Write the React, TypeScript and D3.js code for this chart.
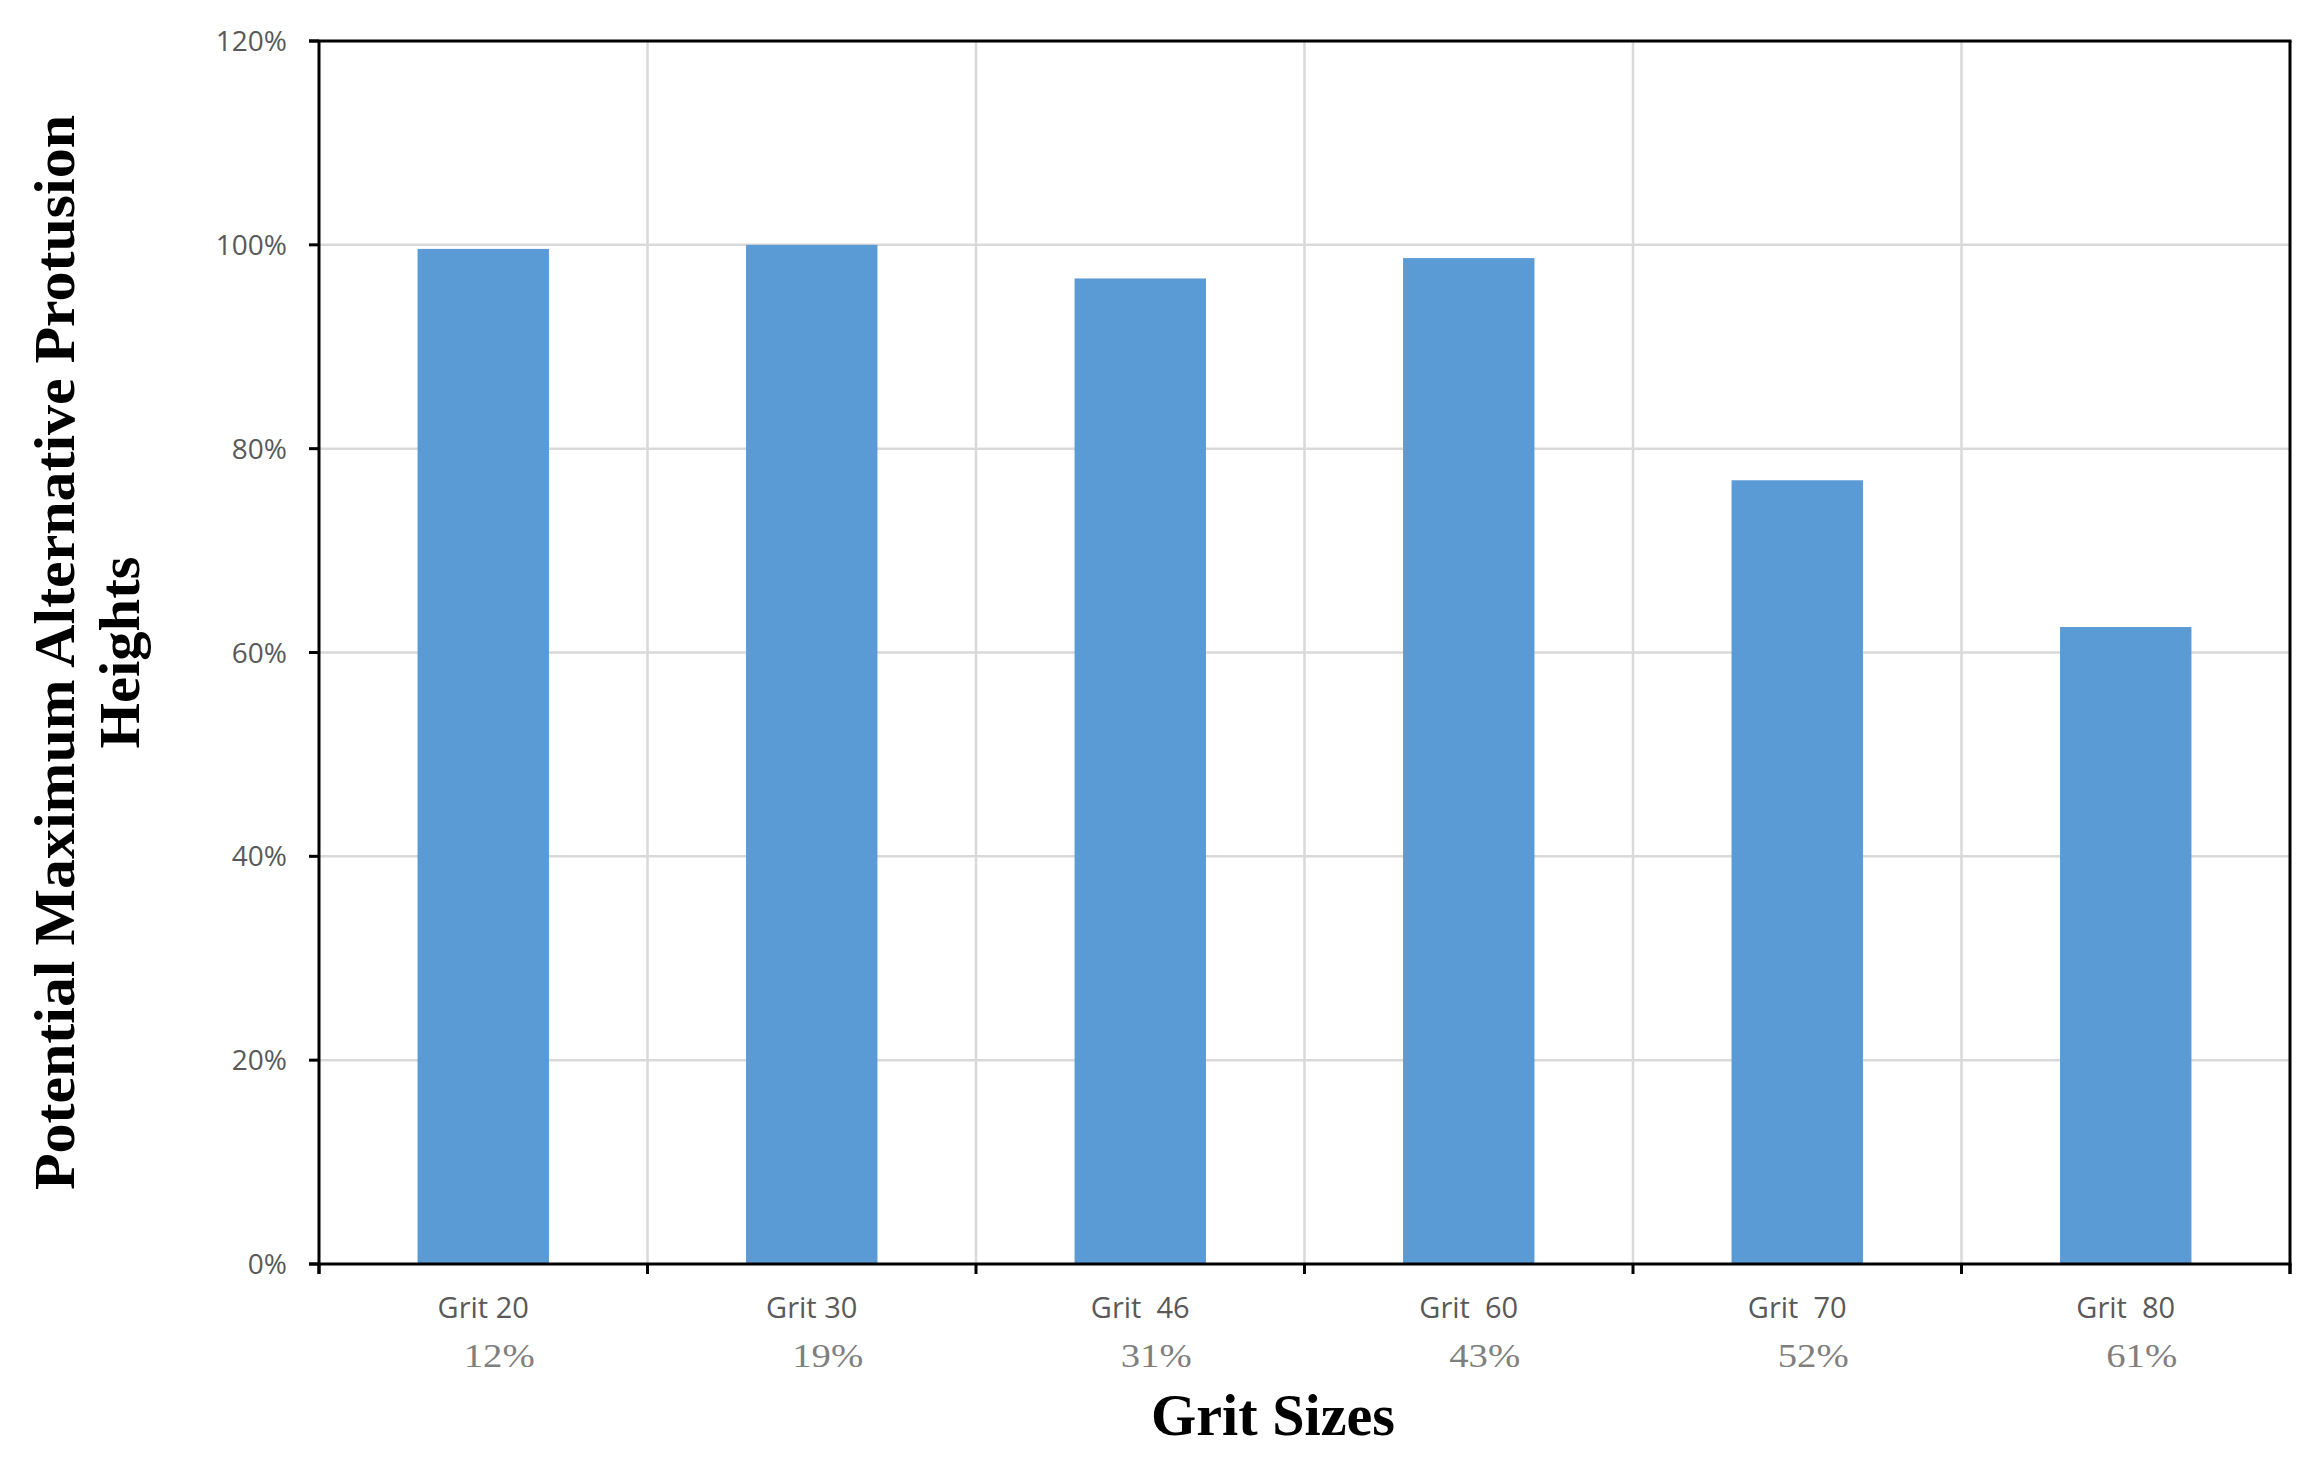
import React from "react";
import * as d3 from "d3";

const categories = ["Grit 20", "Grit 30", "Grit  46", "Grit  60", "Grit  70", "Grit  80"];
const subLabels = ["12%", "19%", "31%", "43%", "52%", "61%"];
const values = [0.996, 1.0, 0.967, 0.987, 0.769, 0.625];
const yTicks = [0, 0.2, 0.4, 0.6, 0.8, 1.0, 1.2];
const yTitleLines = ["Potential Maximum Alternative Protusion", "Heights"];
const xTitle = "Grit Sizes";

const W = 2318;
const H = 1460;
const left = 319;
const right = 2290;
const top = 41;
const bottom = 1264;

export default function App() {
  const x = d3.scaleBand<string>().domain(categories).range([left, right]).padding(0);
  const y = d3.scaleLinear().domain([0, 1.2]).range([bottom, top]);
  const bw = x.bandwidth();
  const barW = bw * 0.4;
  const fmt = d3.format(".0%");
  const boundaries = d3.range(categories.length + 1).map((i) => left + i * bw);
  const sans = "'Open Sans', sans-serif";
  const serif = "'Liberation Serif', 'Times New Roman', serif";
  const axisColor = "#000";
  const gridColor = "#d9d9d9";

  return (
    <svg
      width={W}
      height={H}
      style={{ position: "absolute", left: 0, top: 0, background: "#fff" }}
    >
      <rect x={0} y={0} width={W} height={H} fill="#fff" />
      {/* horizontal gridlines */}
      {yTicks.slice(1, -1).map((t) => (
        <line key={"hg" + t} x1={left} x2={right} y1={y(t)} y2={y(t)} stroke={gridColor} strokeWidth={2.5} />
      ))}
      {/* vertical gridlines */}
      {boundaries.slice(1, -1).map((bx, i) => (
        <line key={"vg" + i} x1={bx} x2={bx} y1={top} y2={bottom} stroke={gridColor} strokeWidth={2.5} />
      ))}
      {/* bars */}
      {categories.map((c, i) => (
        <rect
          key={"b" + i}
          x={(x(c) as number) + bw / 2 - barW / 2}
          y={y(values[i])}
          width={barW}
          height={y(0) - y(values[i])}
          fill="#5b9bd5"
        />
      ))}
      {/* frame */}
      <line x1={left - 10} x2={right + 1.5} y1={top} y2={top} stroke={axisColor} strokeWidth={3} />
      <line x1={right} x2={right} y1={top} y2={bottom + 10} stroke={axisColor} strokeWidth={3} />
      <line x1={left} x2={left} y1={top} y2={bottom + 10} stroke={axisColor} strokeWidth={3} />
      <line x1={left - 10} x2={right + 1.5} y1={bottom} y2={bottom} stroke={axisColor} strokeWidth={3} />
      {/* y ticks */}
      {yTicks.map((t) => (
        <g key={"yt" + t}>
          <line x1={left - 10} x2={left} y1={y(t)} y2={y(t)} stroke={axisColor} strokeWidth={3} />
          <text
            x={287}
            y={y(t)}
            dy="0.36em"
            textAnchor="end"
            fontFamily={sans}
            fontSize={28}
            fill="#595959"
          >
            {fmt(t)}
          </text>
        </g>
      ))}
      {/* x ticks */}
      {boundaries.map((bx, i) => (
        <line key={"xt" + i} x1={bx} x2={bx} y1={bottom} y2={bottom + 10} stroke={axisColor} strokeWidth={3} />
      ))}
      {/* category labels */}
      {categories.map((c, i) => (
        <g key={"cl" + i}>
          <text
            x={(x(c) as number) + bw / 2}
            y={1318}
            textAnchor="middle"
            fontFamily={sans}
            fontSize={29}
            fill="#595959"
            style={{ whiteSpace: "pre" }}
          >
            {c}
          </text>
          <text
            x={(x(c) as number) + bw / 2 + 16}
            y={1367}
            textAnchor="middle"
            fontFamily={serif}
            fontSize={34}
            fill="#7f7f7f"
            textLength={71}
            lengthAdjust="spacingAndGlyphs"
          >
            {subLabels[i]}
          </text>
        </g>
      ))}
      {/* x title */}
      <text
        x={1273}
        y={1435}
        textAnchor="middle"
        fontFamily={serif}
        fontWeight="bold"
        fontSize={60}
        fill="#000"
        textLength={244}
        lengthAdjust="spacingAndGlyphs"
      >
        {xTitle}
      </text>
      {/* y title */}
      <g transform={`translate(74, ${(top + bottom) / 2}) rotate(-90)`}>
        <text
          x={0}
          y={0}
          textAnchor="middle"
          fontFamily={serif}
          fontWeight="bold"
          fontSize={57}
          fill="#000"
          textLength={1075}
          lengthAdjust="spacingAndGlyphs"
        >
          {yTitleLines[0]}
        </text>
        <text
          x={0}
          y={65}
          textAnchor="middle"
          fontFamily={serif}
          fontWeight="bold"
          fontSize={57}
          fill="#000"
          textLength={192}
          lengthAdjust="spacingAndGlyphs"
        >
          {yTitleLines[1]}
        </text>
      </g>
    </svg>
  );
}
